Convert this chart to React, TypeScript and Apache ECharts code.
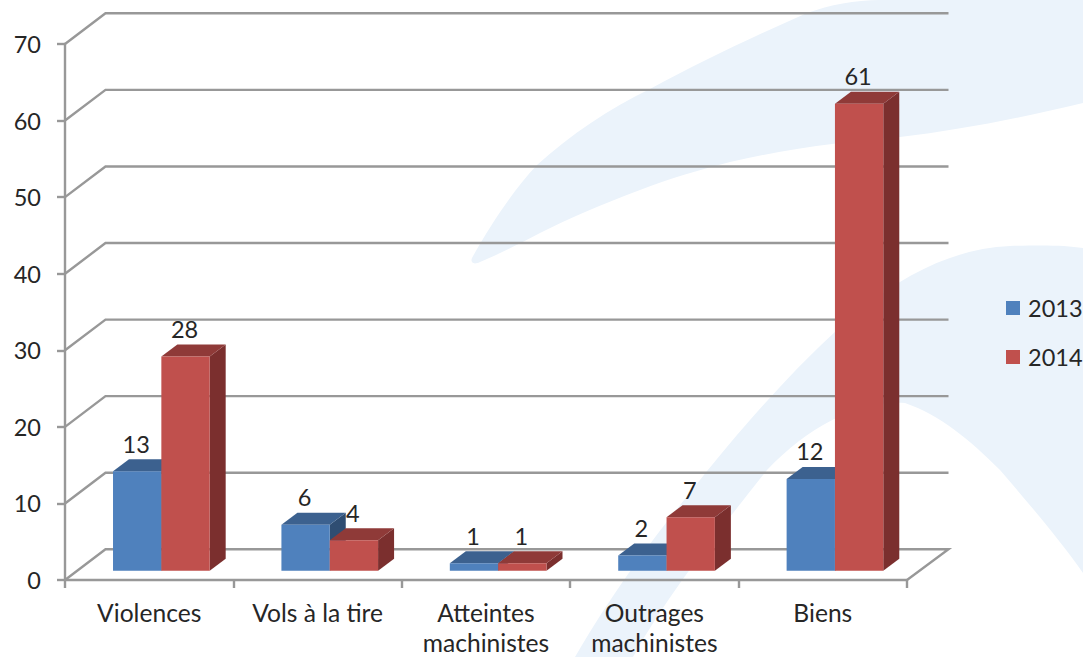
import React, { useEffect, useRef } from "react";
import * as echarts from "echarts";

const categories = ["Violences", "Vols à la tire", "Atteintes\nmachinistes", "Outrages\nmachinistes", "Biens"];
const values2013 = [13, 6, 1, 2, 12];
const values2014 = [28, 4, 1, 7, 61];
const gridValues = [0, 10, 20, 30, 40, 50, 60, 70];

const FONT = "Lato";
const TEXT = "#262626";
const GRID = "#989898";
const SWOOSH = "#ebf3fb";
const WALL_DX = 40.5;
const WALL_DY = 30.7;
const PLANE = 0.3;
const DEPTH_X = 16;
const DEPTH_Y = 12;
const BAR_FRACTION = 0.287;
const LINE = 2.4;

echarts.graphic.registerShape(
  "swooshTop",
  echarts.graphic.extendPath(
    "M472 258 C490 225 515 188 537 165 C570 135 610 108 650 89 C700 62 750 38 807 13 C830 5 855 0 880 0 L1083 0 L1083 103 C1020 118 960 130 900 137 C850 141 790 148 730 162 C700 170 670 178 640 190 C600 205 570 218 540 233 C515 246 495 256 480 262 C474 265 470 263 472 258 Z",
    {}
  )
);
echarts.graphic.registerShape(
  "swooshBottom",
  echarts.graphic.extendPath(
    "M575 657 C620 580 660 530 700 480 C740 430 800 360 860 310 C910 270 960 248 1010 246 C1040 245 1065 245 1083 248 L1083 573 C1060 540 1030 505 1000 470 C970 440 940 415 905 403 C860 400 810 425 767 470 C720 530 670 590 633 657 Z",
    {}
  )
);

function barSeries(name: string, values: number[], side: -1 | 1, front: string, top: string, right: string) {
  return {
    type: "custom",
    name,
    z: 5,
    itemStyle: { color: front },
    data: values.map((v, i) => [i, v]),
    encode: { x: 0, y: 1 },
    clip: false,
    renderItem: (_p: any, api: any) => {
      const idx = api.value(0);
      const val = api.value(1);
      const w = api.size([1, 0])[0] * BAR_FRACTION;
      const dx = WALL_DX * PLANE;
      const dy = WALL_DY * PLANE;
      const base = api.coord([idx, 0]);
      const head = api.coord([idx, val]);
      const x0 = base[0] + dx + (side < 0 ? -w : 0);
      const x1 = x0 + w;
      const yb = base[1] - dy;
      const yt = head[1] - dy;
      const poly = (points: number[][], fill: string) => ({ type: "polygon", shape: { points }, style: { fill } });
      return {
        type: "group",
        children: [
          poly([[x1, yb], [x1 + DEPTH_X, yb - DEPTH_Y], [x1 + DEPTH_X, yt - DEPTH_Y], [x1, yt]], right),
          poly([[x0, yt], [x1, yt], [x1 + DEPTH_X, yt - DEPTH_Y], [x0 + DEPTH_X, yt - DEPTH_Y]], top),
          { type: "rect", shape: { x: x0, y: yt, width: w, height: yb - yt }, style: { fill: front } },
          {
            type: "text",
            style: {
              x: (x0 + x1) / 2 - 1,
              y: yt - DEPTH_Y - 15.5,
              text: String(val),
              fill: TEXT,
              font: `23.5px ${FONT}`,
              align: "center",
              verticalAlign: "middle",
            },
          },
        ],
      };
    },
  };
}

export default function App() {
  const ref = useRef<HTMLDivElement>(null);
  useEffect(() => {
    document.body.style.margin = "0";
    const chart = echarts.init(ref.current!, null, { renderer: "svg" });
    chart.setOption({
      animation: false,
      backgroundColor: "#ffffff",
      textStyle: { fontFamily: FONT },
      grid: { left: 65, right: 176, top: 44, bottom: 77, containLabel: false, outerBoundsMode: "none" },
      graphic: {
        elements: [
          { type: "swooshTop", z: -10, style: { fill: SWOOSH } },
          { type: "swooshBottom", z: -10, style: { fill: SWOOSH } },
        ],
      },
      legend: {
        data: ["2013", "2014"],
        icon: "rect",
        orient: "vertical",
        left: 1006,
        top: 296,
        padding: 0,
        itemWidth: 14,
        itemHeight: 14,
        itemGap: 25,
        textStyle: { color: TEXT, fontSize: 23.5, fontFamily: FONT, padding: [0, 0, 0, 3] },
      },
      xAxis: {
        type: "category",
        data: categories,
        boundaryGap: true,
        axisLine: { show: true, lineStyle: { color: GRID, width: LINE } },
        axisTick: { show: true, alignWithLabel: false, length: 8, lineStyle: { color: GRID, width: LINE } },
        axisLabel: { color: TEXT, fontSize: 24.6, fontFamily: FONT, lineHeight: 30, margin: 17.5, interval: 0 },
      },
      yAxis: {
        type: "value",
        min: 0,
        max: 70,
        interval: 10,
        splitLine: { show: false },
        axisLine: { show: true, lineStyle: { color: GRID, width: LINE } },
        axisTick: { show: true, length: 8, lineStyle: { color: GRID, width: LINE } },
        axisLabel: { color: TEXT, fontSize: 23.5, fontFamily: FONT, margin: 24, padding: [0, 0, 7, 0] },
      },
      series: [
        {
          type: "custom",
          z: 1,
          silent: true,
          clip: false,
          data: gridValues.map((v) => [0, v]),
          encode: { x: 0, y: 1 },
          renderItem: (p: any, api: any) => {
            const v = api.value(1);
            const y = api.coord([0, v])[1];
            const left = p.coordSys.x;
            const right = left + p.coordSys.width;
            const points = [
              [left, y],
              [left + WALL_DX, y - WALL_DY],
              [right + WALL_DX + 1, y - WALL_DY],
            ];
            if (v === 0) points.push([right, y]);
            return {
              type: "polyline",
              shape: { points },
              style: { fill: "none", stroke: GRID, lineWidth: LINE },
            };
          },
        },
        barSeries("2013", values2013, -1, "#4f81bd", "#3c618f", "#2f4d72"),
        barSeries("2014", values2014, 1, "#c0504d", "#8f3a38", "#7b2f2e"),
      ],
    });
    return () => chart.dispose();
  }, []);
  return <div ref={ref} style={{ position: "absolute", left: 0, top: 0, width: 1083, height: 657 }} />;
}
